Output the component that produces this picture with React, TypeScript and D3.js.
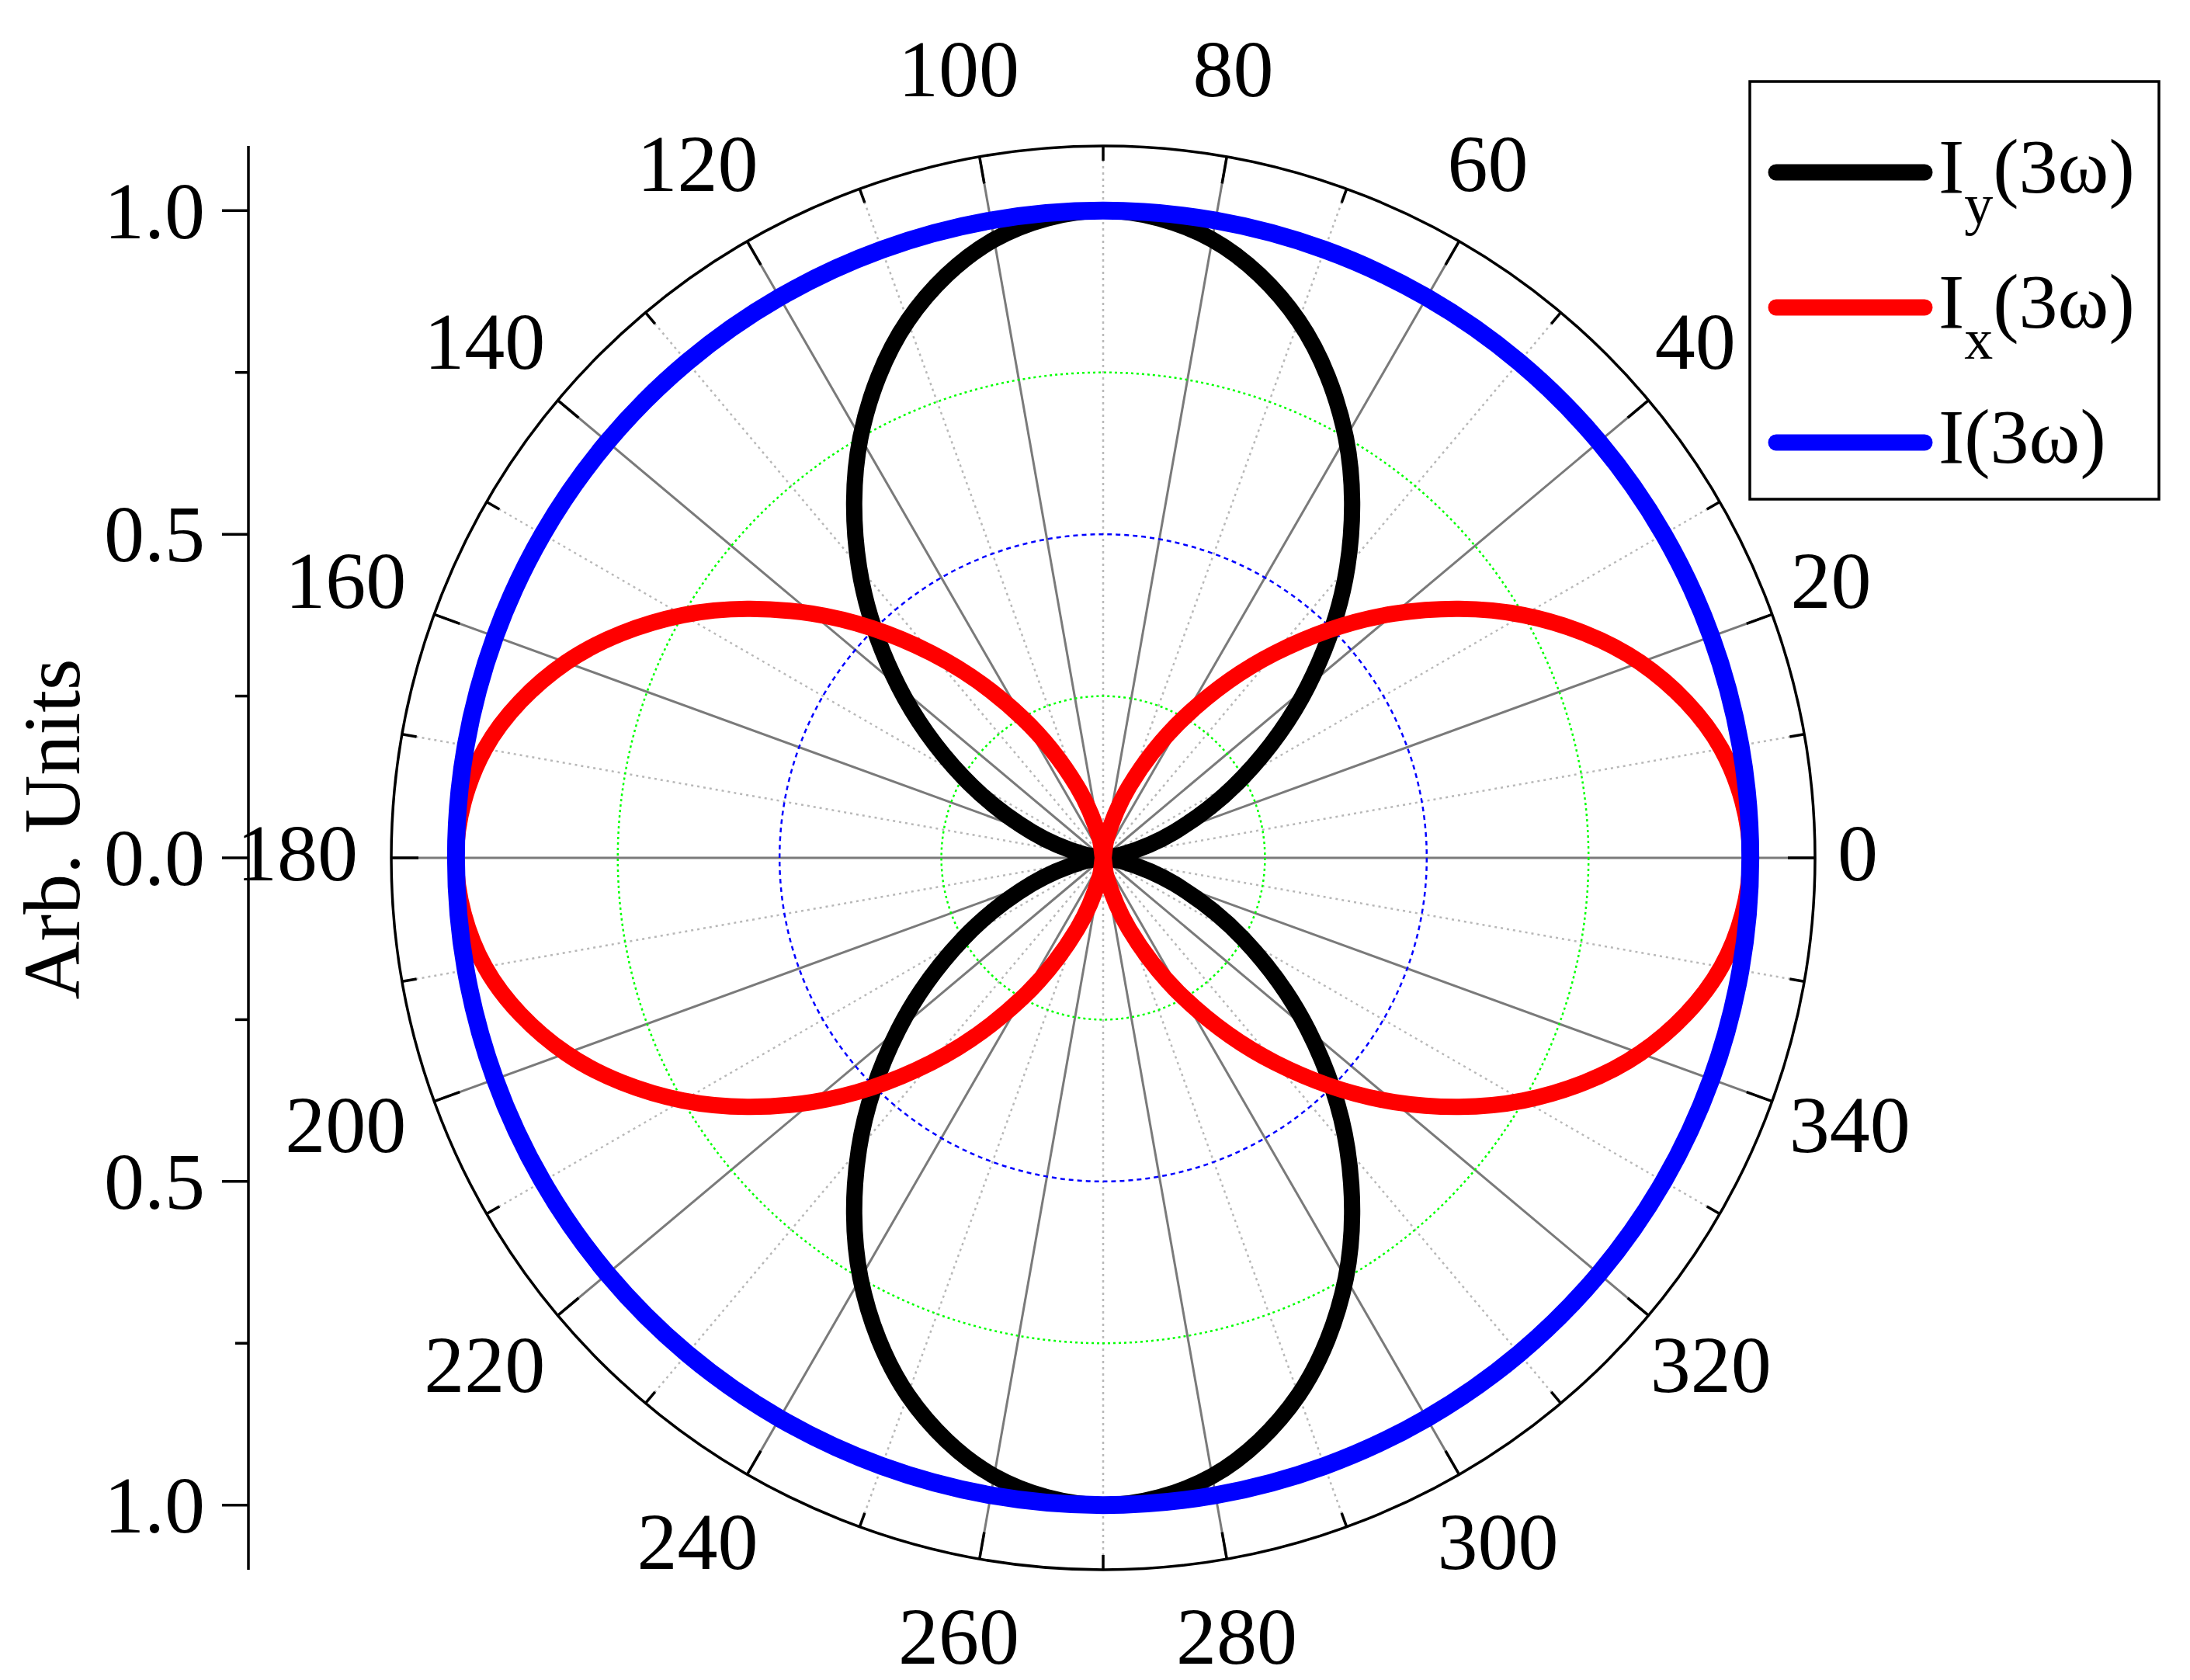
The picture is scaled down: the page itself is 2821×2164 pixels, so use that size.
import React from 'react';
import * as d3 from 'd3';

// ---- data ----
const angles = [0, 10, 20, 30, 40, 50, 60, 70, 80, 90, 100, 110, 120, 130, 140, 150, 160, 170,
  180, 190, 200, 210, 220, 230, 240, 250, 260, 270, 280, 290, 300, 310, 320, 330, 340, 350];
const Iy = [0, 0.03, 0.117, 0.25, 0.413, 0.587, 0.75, 0.883, 0.97, 1, 0.97, 0.883, 0.75, 0.587, 0.413, 0.25, 0.117, 0.03,
  0, 0.03, 0.117, 0.25, 0.413, 0.587, 0.75, 0.883, 0.97, 1, 0.97, 0.883, 0.75, 0.587, 0.413, 0.25, 0.117, 0.03];
const Ix = [1, 0.97, 0.883, 0.75, 0.587, 0.413, 0.25, 0.117, 0.03, 0, 0.03, 0.117, 0.25, 0.413, 0.587, 0.75, 0.883, 0.97,
  1, 0.97, 0.883, 0.75, 0.587, 0.413, 0.25, 0.117, 0.03, 0, 0.03, 0.117, 0.25, 0.413, 0.587, 0.75, 0.883, 0.97];
const Itot = [1, 1, 1, 1, 1, 1, 1, 1, 1, 1, 1, 1, 1, 1, 1, 1, 1, 1,
  1, 1, 1, 1, 1, 1, 1, 1, 1, 1, 1, 1, 1, 1, 1, 1, 1, 1];
const angleTicks = [0, 20, 40, 60, 80, 100, 120, 140, 160, 180, 200, 220, 240, 260, 280, 300, 320, 340];
const angleMinor = [10, 30, 50, 70, 90, 110, 130, 150, 170, 190, 210, 230, 250, 270, 290, 310, 330, 350];
const yMajor = [1, 0.5, 0, -0.5, -1];
const yMajorLabels = ['1.0', '0.5', '0.0', '0.5', '1.0'];
const yMinor = [0.75, 0.25, -0.25, -0.75];
const seriesNames = ['y', 'x', ''];
const seriesColors = ['#000000', '#ff0000', '#0000ff'];

// ---- layout ----
const W = 2821, H = 2164;
const cx = 1421, cy = 1105, Rout = 917;
const FONT = '"Liberation Serif", "Times New Roman", serif';
const FS = 104;

export default function App() {
  const r = d3.scaleLinear().domain([0, 1.1]).range([0, Rout]);
  const yAx = d3.scaleLinear().domain([-1.1, 1.1]).range([cy + Rout, cy - Rout]);
  const rad = (deg: number) => (deg * Math.PI) / 180;

  const makeLine = (vals: number[]) =>
    d3.lineRadial<number>()
      .angle((_d, i) => Math.PI / 2 - rad(angles[i]))
      .radius((d) => r(d))
      .curve(d3.curveCatmullRomClosed.alpha(0.5))(vals) || '';

  const series = [Iy, Ix, Itot];

  return (
    <svg width={W} height={H} style={{ position: 'absolute', left: 0, top: 0, background: '#fff' }}
      fontFamily={FONT}>
      <rect x={0} y={0} width={W} height={H} fill="#fff" />
      <g transform={`translate(${cx},${cy})`}>
        {/* radial grid lines */}
        {angleMinor.map((a) => (
          <line key={'m' + a} x1={0} y1={0} x2={Rout * Math.cos(rad(a))} y2={-Rout * Math.sin(rad(a))}
            stroke="#b8b8b8" strokeWidth={2.5} strokeDasharray="3,5" />
        ))}
        {angleTicks.map((a) => (
          <line key={'M' + a} x1={0} y1={0} x2={Rout * Math.cos(rad(a))} y2={-Rout * Math.sin(rad(a))}
            stroke="#7a7a7a" strokeWidth={3} />
        ))}
        {/* circular grid */}
        <circle r={r(0.25)} fill="none" stroke="#00ff00" strokeWidth={2.5} strokeDasharray="3,4" />
        <circle r={r(0.75)} fill="none" stroke="#00ff00" strokeWidth={2.5} strokeDasharray="3,4" />
        <circle r={r(0.5)} fill="none" stroke="#0000ff" strokeWidth={2.5} strokeDasharray="6,5" />
        {/* outer circle + ticks */}
        <circle r={Rout} fill="none" stroke="#000" strokeWidth={3.5} />
        {angleTicks.map((a) => (
          <line key={'t' + a} x1={(Rout - 35) * Math.cos(rad(a))} y1={-(Rout - 35) * Math.sin(rad(a))}
            x2={Rout * Math.cos(rad(a))} y2={-Rout * Math.sin(rad(a))} stroke="#000" strokeWidth={3.5} />
        ))}
        {angleMinor.map((a) => (
          <line key={'tm' + a} x1={(Rout - 19) * Math.cos(rad(a))} y1={-(Rout - 19) * Math.sin(rad(a))}
            x2={Rout * Math.cos(rad(a))} y2={-Rout * Math.sin(rad(a))} stroke="#000" strokeWidth={3.5} />
        ))}
        {/* curves */}
        {series.map((s, i) => (
          <path key={'s' + i} d={makeLine(s)} fill="none" stroke={seriesColors[i]} strokeWidth={i === 2 ? 23 : 21}
            strokeLinejoin="round" />
        ))}
        {/* angle labels */}
        {angleTicks.map((a) => {
          const txt = String(a);
          const hw = txt.length * 26;
          const x = (953 + hw) * Math.cos(rad(a)) - 7;
          const y = -1025 * Math.sin(rad(a)) - 6.5;
          return (
            <text key={'l' + a} x={x} y={y + 0.338 * FS} fontSize={FS} textAnchor="middle" fill="#000">{txt}</text>
          );
        })}
      </g>

      {/* left radial axis */}
      <line x1={320} y1={yAx(1.1)} x2={320} y2={yAx(-1.1)} stroke="#000" strokeWidth={3.5} />
      {yMajor.map((v, i) => (
        <g key={'ym' + i}>
          <line x1={286} x2={320} y1={yAx(v)} y2={yAx(v)} stroke="#000" strokeWidth={3.5} />
          <text x={264} y={yAx(v) + 0.338 * FS} fontSize={FS} textAnchor="end">{yMajorLabels[i]}</text>
        </g>
      ))}
      {yMinor.map((v, i) => (
        <line key={'yn' + i} x1={303} x2={320} y1={yAx(v)} y2={yAx(v)} stroke="#000" strokeWidth={3.5} />
      ))}
      <text transform={`translate(102,1068) rotate(-90)`} fontSize={FS} textAnchor="middle">Arb. Units</text>

      {/* legend */}
      <rect x={2254} y={105} width={527} height={538} fill="#fff" stroke="#000" strokeWidth={3.5} />
      {seriesNames.map((n, i) => {
        const ly = 222 + i * 174;
        return (
          <g key={'lg' + i}>
            <line x1={2288} x2={2479} y1={ly} y2={ly} stroke={seriesColors[i]} strokeWidth={21} strokeLinecap="round" />
            <text x={2497} y={ly + 26} fontSize={100}>
              I
              {n ? <tspan fontSize={74} dy={40}>{n}</tspan> : null}
              <tspan fontSize={100} dy={n ? -40 : 0}>(3ω)</tspan>
            </text>
          </g>
        );
      })}
    </svg>
  );
}
